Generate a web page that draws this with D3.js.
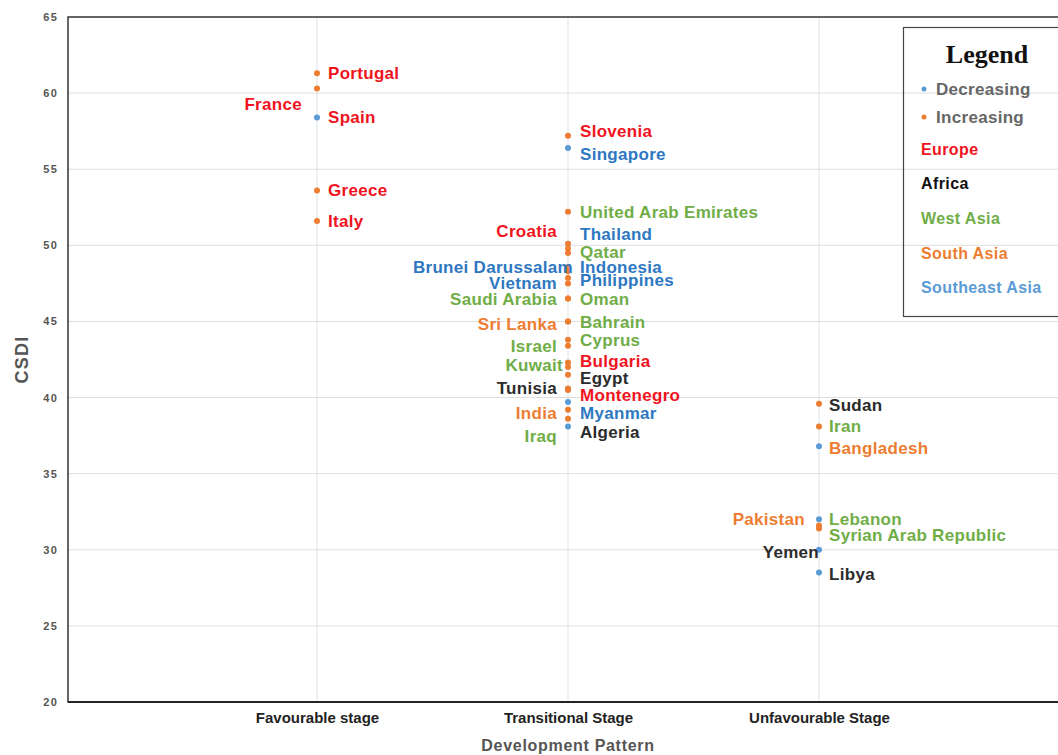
<!DOCTYPE html>
<html>
<head>
<meta charset="utf-8">
<script src="https://cdn.jsdelivr.net/npm/d3@7"></script>
<style>
  html, body { margin: 0; padding: 0; background: #fff; }
  svg { display: block; font-family: "Liberation Sans", Arial, sans-serif; }
</style>
</head>
<body>
<svg id="chart" width="1058" height="755"></svg>
<script>
// Development stages on the x axis
const stages = ["Favourable stage", "Transitional Stage", "Unfavourable Stage"];

// Countries, their stage, CSDI value, trend and region
const countries = [
  "Portugal", "France", "Spain", "Greece", "Italy",
  "Slovenia", "Singapore", "United Arab Emirates", "Croatia", "Thailand",
  "Qatar", "Brunei Darussalam", "Indonesia", "Philippines", "Vietnam",
  "Saudi Arabia", "Oman", "Sri Lanka", "Bahrain", "Cyprus",
  "Israel", "Kuwait", "Bulgaria", "Egypt", "Tunisia",
  "Montenegro", "Myanmar", "India", "Iraq", "Algeria",
  "Sudan", "Iran", "Bangladesh", "Lebanon", "Pakistan",
  "Syrian Arab Republic", "Yemen", "Libya"
];
const stageOf = [
  0, 0, 0, 0, 0,
  1, 1, 1, 1, 1,
  1, 1, 1, 1, 1,
  1, 1, 1, 1, 1,
  1, 1, 1, 1, 1,
  1, 1, 1, 1, 1,
  2, 2, 2, 2, 2,
  2, 2, 2
];
const csdi = [
  61.3, 60.3, 58.4, 53.6, 51.6,
  57.2, 56.4, 52.2, 50.1, 49.8,
  49.5, 48.6, 48.3, 47.85, 47.5,
  46.5, 46.5, 45.0, 45.0, 43.8,
  43.4, 42.3, 42.0, 41.5, 40.6,
  40.5, 39.7, 39.2, 38.6, 38.1,
  39.6, 38.1, 36.8, 32.0, 31.6,
  31.4, 30.0, 28.5
];
const trend = [
  "Increasing", "Increasing", "Decreasing", "Increasing", "Increasing",
  "Increasing", "Decreasing", "Increasing", "Increasing", "Increasing",
  "Increasing", "Increasing", "Increasing", "Increasing", "Increasing",
  "Increasing", "Increasing", "Increasing", "Increasing", "Increasing",
  "Increasing", "Increasing", "Increasing", "Increasing", "Increasing",
  "Increasing", "Decreasing", "Increasing", "Increasing", "Decreasing",
  "Increasing", "Increasing", "Decreasing", "Decreasing", "Increasing",
  "Increasing", "Decreasing", "Decreasing"
];
const region = [
  "Europe", "Europe", "Europe", "Europe", "Europe",
  "Europe", "Southeast Asia", "West Asia", "Europe", "Southeast Asia",
  "West Asia", "Southeast Asia", "Southeast Asia", "Southeast Asia", "Southeast Asia",
  "West Asia", "West Asia", "South Asia", "West Asia", "West Asia",
  "West Asia", "West Asia", "Europe", "Africa", "Africa",
  "Europe", "Southeast Asia", "South Asia", "West Asia", "Africa",
  "Africa", "West Asia", "South Asia", "West Asia", "South Asia",
  "West Asia", "Africa", "Africa"
];

// Y axis ticks
const yTicks = [20, 25, 30, 35, 40, 45, 50, 55, 60, 65];

// Legend entries
const trendKeys = ["Decreasing", "Increasing"];
const regionKeys = ["Europe", "Africa", "West Asia", "South Asia", "Southeast Asia"];

// Label placement: [side, dx, dy] in pixels, relative to each point
const labelPlacement = [
  ["r", 11, 0], ["l", -15, 16], ["r", 11, 0], ["r", 11, 0], ["r", 11, 0],
  ["r", 12, -5], ["r", 12, 6], ["r", 12, 0], ["l", -11, -13], ["r", 12, -14],
  ["r", 12, -1], ["l", 5, 0], ["r", 12, -4], ["r", 12, 2], ["l", -11, 0],
  ["l", -11, 0], ["r", 12, 0], ["l", -11, 3], ["r", 12, 1], ["r", 12, 0],
  ["l", -11, 0], ["l", -5, 3], ["r", 12, -6], ["r", 12, 3], ["l", -11, 0],
  ["r", 12, 5], ["r", 12, 11], ["l", -11, 3], ["l", -11, 17], ["r", 12, 6],
  ["r", 10, 1], ["r", 10, 0], ["r", 10, 2], ["r", 10, 0], ["l", -14, -6],
  ["r", 10, 7], ["l", 0, 2], ["r", 10, 1]
];

const trendColor = { "Decreasing": "#5b9bd5", "Increasing": "#ed7d31" };
const regionColor = {
  "Europe": "#f0141e",
  "Africa": "#2b2b2b",
  "West Asia": "#70ad47",
  "South Asia": "#ed7d31",
  "Southeast Asia": "#2e78c2"
};
const legendRegionColor = {
  "Europe": "#f0141e",
  "Africa": "#111111",
  "West Asia": "#70ad47",
  "South Asia": "#ed7d31",
  "Southeast Asia": "#5b9bd5"
};

const svg = d3.select("#chart");
const plotLeft = 68, plotTop = 17, plotBottom = 702, plotRight = 1072;

const x = d3.scalePoint().domain(stages).range([66, 1070]).padding(1);
const y = d3.scaleLinear().domain([20, 65]).range([plotBottom, plotTop]);

// Grid
const grid = svg.append("g");
grid.selectAll("line.h").data(yTicks.filter(t => t > 20 && t < 65)).join("line")
  .attr("class", "h")
  .attr("x1", plotLeft).attr("x2", plotRight)
  .attr("y1", d => y(d)).attr("y2", d => y(d))
  .attr("stroke", "#dedede").attr("stroke-width", 1);
grid.selectAll("line.v").data(stages).join("line")
  .attr("class", "v")
  .attr("x1", d => x(d)).attr("x2", d => x(d))
  .attr("y1", plotTop).attr("y2", plotBottom)
  .attr("stroke", "#dde1ea").attr("stroke-width", 1);

// Frame
svg.append("rect")
  .attr("x", plotLeft).attr("y", plotTop)
  .attr("width", plotRight - plotLeft).attr("height", plotBottom - plotTop)
  .attr("fill", "none").attr("stroke", "#333").attr("stroke-width", 1.5);
svg.append("line")
  .attr("x1", plotLeft).attr("x2", plotRight)
  .attr("y1", plotBottom).attr("y2", plotBottom)
  .attr("stroke", "#222").attr("stroke-width", 2);

// Y axis
const yAxis = d3.axisLeft(y).tickValues(yTicks).tickSize(0).tickPadding(10);
const gy = svg.append("g").attr("transform", `translate(${plotLeft},0)`).call(yAxis);
gy.select(".domain").remove();
gy.selectAll("text")
  .attr("fill", "#555").attr("font-size", 11).attr("font-weight", "bold")
  .attr("letter-spacing", 1.2).attr("font-family", "'Liberation Sans', Arial, sans-serif");

// X axis
const xAxis = d3.axisBottom(x).tickSize(0).tickPadding(10);
const gx = svg.append("g").attr("transform", `translate(0,${plotBottom})`).call(xAxis);
gx.select(".domain").remove();
gx.selectAll("text")
  .attr("fill", "#222").attr("font-size", 15).attr("font-weight", "bold")
  .attr("font-family", "'Liberation Sans', Arial, sans-serif");

// Axis titles
svg.append("text")
  .attr("transform", `translate(22,${(plotTop + plotBottom) / 2}) rotate(-90)`)
  .attr("text-anchor", "middle").attr("dy", "0.35em")
  .attr("fill", "#555").attr("font-size", 18).attr("font-weight", "bold")
  .attr("letter-spacing", 1.2)
  .text("CSDI");
svg.append("text")
  .attr("x", x(stages[1])).attr("y", 751)
  .attr("text-anchor", "middle")
  .attr("fill", "#555").attr("font-size", 16).attr("font-weight", "bold")
  .attr("letter-spacing", 0.7)
  .text("Development Pattern");

// Points
const rows = countries.map((c, i) => ({
  name: c, stage: stages[stageOf[i]], value: csdi[i],
  trend: trend[i], region: region[i], place: labelPlacement[i]
}));

svg.append("g").selectAll("circle").data(rows).join("circle")
  .attr("cx", d => x(d.stage)).attr("cy", d => y(d.value))
  .attr("r", 3)
  .attr("fill", d => trendColor[d.trend]);

// Country labels
svg.append("g").selectAll("text").data(rows).join("text")
  .attr("x", d => x(d.stage) + d.place[1])
  .attr("y", d => y(d.value) + d.place[2])
  .attr("dy", "0.35em")
  .attr("text-anchor", d => d.place[0] === "l" ? "end" : "start")
  .attr("fill", d => regionColor[d.region])
  .attr("font-size", 17).attr("font-weight", "bold")
  .attr("letter-spacing", 0.3)
  .text(d => d.name);

// Legend
const lg = svg.append("g");
lg.append("rect")
  .attr("x", 903.5).attr("y", 27.5).attr("width", 170).attr("height", 289)
  .attr("fill", "none").attr("stroke", "#444").attr("stroke-width", 1.2);
lg.append("text")
  .attr("x", 987).attr("y", 63).attr("text-anchor", "middle")
  .attr("font-family", "'Liberation Serif', 'Times New Roman', serif")
  .attr("font-size", 26).attr("font-weight", "bold").attr("fill", "#111")
  .text("Legend");
const trendRows = lg.selectAll("g.t").data(trendKeys).join("g")
  .attr("class", "t")
  .attr("transform", (d, i) => `translate(0,${89 + i * 28})`);
trendRows.append("circle").attr("cx", 924).attr("cy", 0).attr("r", 2.5)
  .attr("fill", d => trendColor[d]);
trendRows.append("text").attr("x", 936).attr("dy", "0.35em")
  .attr("fill", "#666").attr("font-size", 17).attr("font-weight", "bold")
  .attr("letter-spacing", 0.3)
  .text(d => d);
lg.selectAll("text.r").data(regionKeys).join("text")
  .attr("class", "r")
  .attr("x", 921).attr("y", (d, i) => 149 + i * 34.7).attr("dy", "0.35em")
  .attr("fill", d => legendRegionColor[d]).attr("font-size", 16).attr("font-weight", "bold")
  .attr("letter-spacing", 0.4)
  .text(d => d);
</script>
</body>
</html>
